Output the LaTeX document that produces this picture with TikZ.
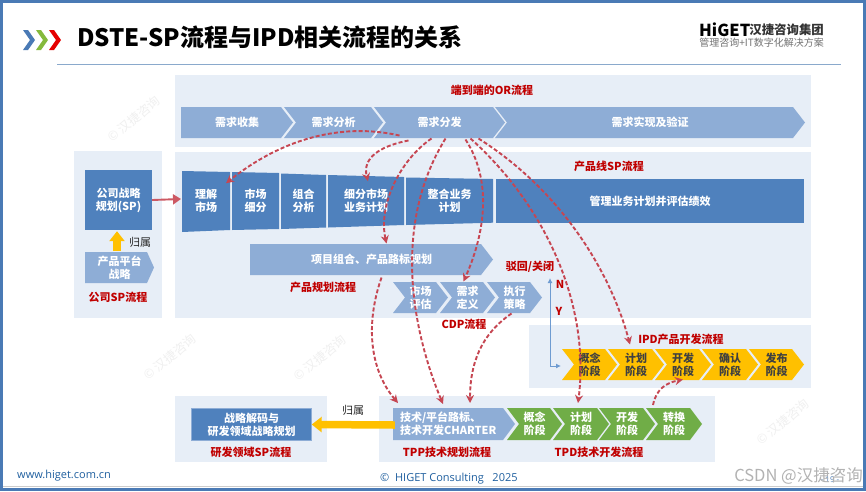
\documentclass[tikz,border=0pt]{standalone}
\usepackage{fontspec}
\setmainfont{Noto Sans CJK SC}
\newfontfamily\footfont{Open Sans}
\usetikzlibrary{arrows.meta,calc}
\definecolor{cBand} {RGB}{231,238,247}
\definecolor{cBlue} {RGB}{ 79,129,189}
\definecolor{cPale} {RGB}{142,173,214}
\definecolor{cGold} {RGB}{255,192,  0}
\definecolor{cLeaf} {RGB}{112,173, 71}
\definecolor{cCap}  {RGB}{192,  0,  0}
\definecolor{cDash} {RGB}{198, 70, 82}
\definecolor{cFrame}{RGB}{ 74,122,181}
\definecolor{cRule} {RGB}{138,169,204}
\definecolor{cLink} {RGB}{ 31, 95,159}
\definecolor{cWire} {RGB}{110,155,209}
\tikzset{
  band/.style    = {fill=cBand},
  lbl/.style     = {font=\fontsize{11}{13}\selectfont\bfseries, align=center,
                    inner sep=0pt},
  whitelbl/.style= {lbl, text=white},
  pale/.style    = {whitelbl, fill=cPale},
  deep/.style    = {whitelbl, fill=cBlue},
  gold/.style    = {lbl, fill=cGold, text=black!75},
  leaf/.style    = {whitelbl, fill=cLeaf},
  capt/.style    = {font=\fontsize{11}{13}\selectfont\bfseries, text=cCap,
                    inner sep=0pt},
  note/.style    = {font=\fontsize{11}{13}\selectfont, text=black!85,
                    inner sep=0pt},
  wmark/.style   = {font=\fontsize{12.5}{13}\selectfont, text=black!6,
                    rotate=40, inner sep=0pt},
  dashlink/.style= {-{Stealth[length=8pt,width=8pt]}, cDash, line width=1.9pt,
                    dash pattern=on 4pt off 2.2pt},
  goldarr/.style = {-{Triangle[length=10pt,width=15pt]}, cGold, line width=7.5pt},
  redarr/.style  = {-{Triangle[length=8pt,width=10pt]}, cDash!90!white, line width=1.9pt},
  bluearr/.style = {{Latex[length=5pt,width=5pt]}-{Latex[length=5pt,width=5pt]},
                    cWire, line width=1pt},
}
% name, style, left, tip, top, bottom, notch; [tip depth]
\newcommand{\chevblk}[8][12]{%
  \fill[#3] (#4,#6) -- ({#5-#1},#6) -- (#5,{(#6+#7)/2}) -- ({#5-#1},#7)
    -- (#4,#7) -- ({#4+#8},{(#6+#7)/2}) -- cycle;
  \coordinate (#2x) at ({(#4+#5)/2},{(#6+#7)/2});}
\newcommand{\chevtxt}[9][12]{%
  \chevblk[#1]{#2}{#3}{#4}{#5}{#6}{#7}{#8}%
  \node[#3, fill=none] (#2) at (#2x) {#9};}
\newcommand{\taperblk}[8]{%
  \fill[cBlue] (#2,#4) -- (#3,#5) -- (#3,#7) -- (#2,#6) -- cycle;
  \node[whitelbl] (#1) at ({(#2+#3)/2},{(#4+#5+#6+#7)/4}) {#8};}

\begin{document}
\begin{tikzpicture}[x=1pt,y=-1pt]
  \useasboundingbox (0,0) rectangle (866,491);

  %% ---------------- page furniture ----------------
  \fill[white] (0,0) rectangle (866,491);
  \draw[black!20, line width=1pt] (3,486) -- (863,486);
  \draw[cFrame, line width=2.6pt] (1.3,1.3) rectangle (864.7,489.4);
  \draw[cRule, line width=1pt] (57,64) -- (841,64);

  \chevblk[7]{hd1}{fill=cFrame}{23}{35}{30}{50}{7}
  \chevblk[7]{hd2}{fill=cLeaf!85!yellow}{36}{48}{30}{50}{7}
  \chevblk[7]{hd3}{fill=red!90!black}{49}{61}{30}{50}{7}
  \node[font=\fontsize{24}{26}\selectfont\bfseries, anchor=west, inner sep=0pt]
    (title) at (77,37) {DSTE-SP流程与IPD相关流程的关系};
  \node[font=\fontsize{16.5}{18}\selectfont\bfseries, anchor=west, inner sep=0pt]
    (logoa) at (699,29.5) {HiGET};
  \node[font=\fontsize{12.4}{14}\selectfont\bfseries, text=black!80, anchor=east,
    inner sep=0pt] (logob) at (824,29.5) {汉捷咨询集团};
  \node[font=\fontsize{10}{12}\selectfont, text=black!55, anchor=east, inner sep=0pt]
    (logoc) at (824,43) {管理咨询+IT数字化解决方案};

  %% ---------------- faint marks ----------------
  \node[wmark] (wm1) at (134,119) {© 汉捷咨询};
  \node[wmark] (wm2) at (320,358) {© 汉捷咨询};
  \node[wmark] (wm3) at (783,422) {© 汉捷咨询};
  \node[wmark] (wm4) at (170,357) {© 汉捷咨询};

  %% ---------------- bands ----------------
  \fill[band] (175,75) rectangle (811,147);
  \fill[band] (74,151) rectangle (162,318);
  \fill[band] (175,152) rectangle (811,318);
  \fill[band] (529,325) rectangle (811,388);
  \fill[band] (175,396) rectangle (327,462);
  \fill[band] (379,396) rectangle (715,462);

  %% ---------------- OR row ----------------
  \node[capt] (orcap) at (492,90) {端到端的OR流程};
  \chevtxt{orA}{pale}{181}{293}{107}{138}{0}{需求收集}
  \chevtxt{orB}{pale}{284}{383}{107}{138}{12}{需求分析}
  \chevtxt{orC}{pale}{374}{505}{107}{138}{12}{需求分发}
  \chevtxt{orD}{pale}{495}{805}{107}{138}{12}{需求实现及验证}

  %% ---------------- company SP ----------------
  \node[deep, minimum width=67pt, minimum height=60pt] (spbox) at (118.5,200)
    {公司战略\\规划(SP)};
  \chevtxt[7]{pfstrat}{pale}{85}{154}{252}{283}{0}{产品平台\\战略}
  \draw[goldarr] ($(spbox.south)+(-1.5,21)$) -- ($(spbox.south)+(-1.5,1)$);
  \node[note] (own1) at (140,242) {归属};
  \node[capt] (spcap) at (118,297) {公司SP流程};

  %% ---------------- product line SP ----------------
  \node[capt] (plcap) at (609,166) {产品线SP流程};
  \taperblk{sA}{182}{230}{171}{172}{232}{230}{理解\\市场}
  \taperblk{sB}{232}{279}{172}{173}{230}{229}{市场\\细分}
  \taperblk{sC}{281}{326}{173.5}{175}{229}{227.5}{组合\\分析}
  \taperblk{sD}{328}{404}{175}{177}{227.5}{225}{细分市场\\业务计划}
  \taperblk{sE}{406}{493}{177.5}{179}{225}{222.7}{整合业务\\计划}
  \taperblk{sF}{496}{804}{179}{179}{222.7}{222.7}{管理业务计划并评估绩效}
  \coordinate (sAin) at (181,199);
  \draw[redarr] (spbox.east) -- (sAin);

  \chevtxt{pfplan}{pale}{250}{493}{244}{275}{0}{项目组合、产品路标规划}
  \node[capt] (plancap) at (323,287) {产品规划流程};

  %% ---------------- CDP ----------------
  \chevtxt{cdA}{pale}{393}{448}{282}{313}{12}{市场\\评估}
  \chevtxt{cdB}{pale}{440}{495}{282}{313}{12}{需求\\定义}
  \chevtxt{cdC}{pale}{487}{542}{282}{313}{12}{执行\\策略}
  \node[capt] (cdpcap) at (464,324) {CDP流程};
  \node[capt] (rej) at (530,267) {驳回/关闭};
  \node[capt] (nno) at (560,284) {N};
  \node[capt] (yes) at (559,311) {Y};

  %% ---------------- IPD ----------------
  \node[capt] (ipdcap) at (681,339) {IPD产品开发流程};
  \chevtxt{ipA}{gold}{562}{617}{349}{380}{12}{概念\\阶段}
  \chevtxt{ipB}{gold}{608}{664}{349}{380}{12}{计划\\阶段}
  \chevtxt{ipC}{gold}{655}{711}{349}{380}{12}{开发\\阶段}
  \chevtxt{ipD}{gold}{702}{758}{349}{380}{12}{确认\\阶段}
  \chevtxt{ipE}{gold}{749}{804}{349}{380}{12}{发布\\阶段}
  \coordinate (jup) at (550,278);
  \coordinate (jin) at (561,366);
  \draw[bluearr] (jup) |- (jin);

  %% ---------------- R&D SP, TPP, TPD ----------------
  \node[deep, draw=cPale, minimum width=120pt, minimum height=32pt] (rdbox)
    at (251.5,424.5) {战略解码与\\研发领域战略规划};
  \node[capt] (rdcap) at (251,452) {研发领域SP流程};
  \node[note] (own2) at (353,410) {归属};
  \chevtxt{tpp}{pale, align=left, text width=108pt}{393}{515}{408}{440}{0}
    {技术/平台路标、\\技术开发CHARTER}
  \chevtxt{tdA}{leaf}{507}{562}{408}{440}{12}{概念\\阶段}
  \chevtxt{tdB}{leaf}{553}{609}{408}{440}{12}{计划\\阶段}
  \chevtxt{tdC}{leaf}{599}{655}{408}{440}{12}{开发\\阶段}
  \chevtxt{tdD}{leaf}{646}{702}{408}{440}{12}{转换\\阶段}
  \node[capt] (tppcap) at (447,452) {TPP技术规划流程};
  \node[capt] (tpdcap) at (599,452) {TPD技术开发流程};
  \draw[goldarr] ($(tpp.west)+(-5,1)$) -- (rdbox.east);

  %% ---------------- dashed links ----------------
  \draw[dashlink] ($(orC)+(-40,13)$) .. controls (340,122) and (280,140) ..
    ($(sA)+(20,-18)$);
  \draw[dashlink] ($(orC)+(-31,18)$) .. controls (380,146) and (362,158) ..
    ($(sD)+(2,-20)$);
  \draw[dashlink] ($(orC)+(-8,16)$) .. controls (400,160) and (378,205) ..
    ($(pfplan)+(15,-16)$);
  \draw[dashlink] ($(orC)+(6,16)$) .. controls (392,225) and (412,330) ..
    ($(tpp)+(-11,-20)$);
  \draw[dashlink] ($(orC)+(26,17)$) .. controls (495,185) and (482,240) ..
    ($(cdB)+(-4,-16)$);
  \draw[dashlink] ($(orC)+(31,16)$) .. controls (550,210) and (590,310) ..
    ($(tdB)+(-3,-21)$);
  \draw[dashlink] ($(orC)+(39,16)$) .. controls (560,190) and (610,270) ..
    ($(ipB)+(-6,-20)$);
  \draw[dashlink] ($(pfplan)+(10,18)$) .. controls (365,325) and (370,370) ..
    ($(tpp)+(-56,-21)$);
  \draw[dashlink] ($(cdC)+(-3,16)$) .. controls (480,335) and (470,365) ..
    ($(tpp)+(16,-21)$);
  \draw[dashlink] ($(tdD)+(-21,-19)$) .. controls (656,390) and (665,383) ..
    ($(ipC)+(0,15)$);

  %% ---------------- footer ----------------
  \node[font=\footfont\fontsize{11}{12}\selectfont, text=cLink, anchor=west,
    inner sep=0pt] (site) at (17,476) {www.higet.com.cn};
  \node[font=\footfont\fontsize{11}{12}\selectfont, text=cLink, anchor=west,
    inner sep=0pt] (copy) at (380,479) {©\ \ HIGET Consulting\ \ \ 2025};
  \node[font=\footfont\fontsize{8}{9}\selectfont, text=cFrame, inner sep=0pt]
    (pgno) at (830,480) {- 19 -};
  \node[font=\fontsize{16.5}{18}\selectfont, text=black!30, anchor=east, inner sep=0pt]
    (csdn) at (863,476) {CSDN @汉捷咨询};
\end{tikzpicture}
\end{document}
